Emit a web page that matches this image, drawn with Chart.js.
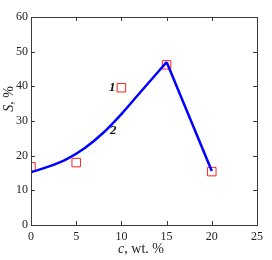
<!DOCTYPE html>
<html><head><meta charset="utf-8">
<script src="https://cdn.jsdelivr.net/npm/chart.js@4.4.0/dist/chart.umd.min.js"></script>
<style>html,body{margin:0;padding:0;background:#fff}#wrap{width:272px;height:260px}</style>
</head><body><div id="wrap"><canvas id="c" width="272" height="260"></canvas></div>
<script>
// Calculated curve 2: rising part, then straight descending part
const curveC = [0, 2, 4, 6, 8, 10, 12, 14, 15];
const curveS = [15.2, 16.9, 19.1, 22.3, 26.6, 32.0, 38.0, 44.0, 47.0];
const dropC = [15, 20];
const dropS = [47.0, 15.6];
// Experimental points 1
const expC = [0, 5, 10, 15, 20];
const expS = [16.8, 18.0, 39.6, 46.2, 15.4];
const xTicks = [0, 5, 10, 15, 20, 25];
const yTicks = [0, 10, 20, 30, 40, 50, 60];
const xTitle = ['c', ', wt. %'];
const yTitle = ['S', ', %'];
const labels = [{t: '1', x: 9.0, y: 39.5}, {t: '2', x: 9.1, y: 27.3}];

const serif = '"Liberation Serif", "Times New Roman", serif';
const axisColor = '#3a3a3a';

const decor = {
  id: 'decor',
  afterDraw(chart) {
    const ctx = chart.ctx, a = chart.chartArea, xs = chart.scales.x, ys = chart.scales.y;
    ctx.save();
    ctx.strokeStyle = axisColor; ctx.lineWidth = 1;
    ctx.strokeRect(Math.round(a.left) + 0.5, Math.round(a.top) + 0.5, Math.round(a.right - a.left), Math.round(a.bottom - a.top));
    const L = 4;
    ctx.beginPath();
    xTicks.forEach(v => {
      const px = Math.round(xs.getPixelForValue(v)) + 0.5;
      ctx.moveTo(px, a.bottom); ctx.lineTo(px, a.bottom - L);
      ctx.moveTo(px, a.top); ctx.lineTo(px, a.top + L);
    });
    yTicks.forEach(v => {
      const py = Math.round(ys.getPixelForValue(v)) + 0.5;
      ctx.moveTo(a.left, py); ctx.lineTo(a.left + L, py);
      ctx.moveTo(a.right, py); ctx.lineTo(a.right - L, py);
    });
    ctx.stroke();
    ctx.fillStyle = '#111';
    ctx.font = 'italic bold 13px ' + serif;
    ctx.textAlign = 'center'; ctx.textBaseline = 'middle';
    labels.forEach(l => ctx.fillText(l.t, xs.getPixelForValue(l.x), ys.getPixelForValue(l.y)));
    ctx.fillStyle = '#222';
    ctx.textBaseline = 'alphabetic';
    ctx.textAlign = 'left';
    ctx.font = 'italic 14px ' + serif;
    const w1 = ctx.measureText(xTitle[0]).width;
    ctx.font = '14px ' + serif;
    const w2 = ctx.measureText(xTitle[1]).width;
    let x0 = (a.left + a.right) / 2 - 3 - (w1 + w2) / 2;
    ctx.font = 'italic 14px ' + serif; ctx.fillText(xTitle[0], x0, 253);
    ctx.font = '14px ' + serif; ctx.fillText(xTitle[1], x0 + w1, 253);
    ctx.translate(13, 99);
    ctx.rotate(-Math.PI / 2);
    ctx.font = 'italic 14px ' + serif;
    const v1 = ctx.measureText(yTitle[0]).width;
    ctx.font = '14px ' + serif;
    const v2 = ctx.measureText(yTitle[1]).width;
    const y0 = -(v1 + v2) / 2;
    ctx.font = 'italic 14px ' + serif; ctx.fillText(yTitle[0], y0, 0);
    ctx.font = '14px ' + serif; ctx.fillText(yTitle[1], y0 + v1, 0);
    ctx.restore();
  }
};

new Chart(document.getElementById('c'), {
  type: 'scatter',
  data: {
    datasets: [
      {
        type: 'line',
        data: curveC.map((c, i) => ({x: c, y: curveS[i]})),
        borderColor: '#0000ff', borderWidth: 2.5, pointRadius: 0,
        cubicInterpolationMode: 'monotone', fill: false, clip: 0, order: 1
      },
      {
        type: 'line',
        data: dropC.map((c, i) => ({x: c, y: dropS[i]})),
        borderColor: '#0000ff', borderWidth: 2.5, pointRadius: 0,
        tension: 0, fill: false, clip: 0, order: 1
      },
      {
        data: expC.map((c, i) => ({x: c, y: expS[i]})),
        pointStyle: 'rect', pointRadius: 6, pointBorderColor: '#ff2020',
        pointBackgroundColor: 'rgba(0,0,0,0)', pointBorderWidth: 1, showLine: false,
        clip: 0, order: 2
      }
    ]
  },
  plugins: [decor],
  options: {
    responsive: false, animation: false, devicePixelRatio: 1,
    layout: {padding: {top: 17, right: 15, left: 0, bottom: 0}},
    plugins: {legend: {display: false}, tooltip: {enabled: false}},
    scales: {
      x: {
        type: 'linear', min: 0, max: 25,
        afterBuildTicks: s => { s.ticks = xTicks.map(v => ({value: v})); },
        afterFit: s => { s.height = 35; },
        grid: {display: false, drawTicks: false}, border: {display: false},
        ticks: {padding: 5, color: '#222', font: {family: serif, size: 12}}
      },
      y: {
        type: 'linear', min: 0, max: 60,
        afterBuildTicks: s => { s.ticks = yTicks.map(v => ({value: v})); },
        afterFit: s => { s.width = 31; },
        grid: {display: false, drawTicks: false}, border: {display: false},
        ticks: {padding: 3, color: '#222', font: {family: serif, size: 12}}
      }
    }
  }
});
</script></body></html>
